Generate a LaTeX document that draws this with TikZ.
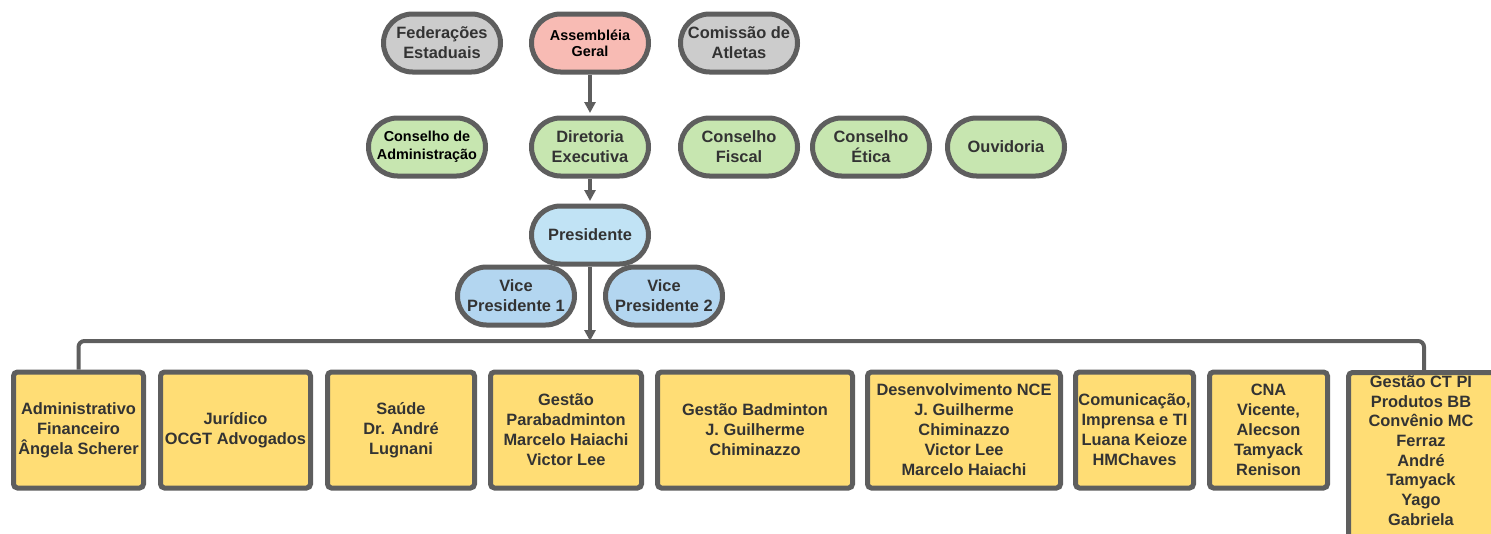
\documentclass[tikz,border=0pt]{standalone}
\usepackage{fontspec}
\setmainfont{Liberation Sans}
\usetikzlibrary{arrows.meta}

\definecolor{edgegray}{RGB}{94,94,94}
\definecolor{txtgray}{RGB}{51,51,51}
\definecolor{fedgray}{RGB}{204,204,204}
\definecolor{assempink}{RGB}{248,187,180}
\definecolor{consgreen}{RGB}{199,230,176}
\definecolor{presblue}{RGB}{193,227,245}
\definecolor{viceblue}{RGB}{179,214,240}
\definecolor{deptyellow}{RGB}{255,221,117}

\begin{document}
\begin{tikzpicture}[x=1pt, y=-1pt,
    every node/.style={font=\fontsize{16.4}{20}\selectfont\bfseries, text=txtgray, align=center},
    pill/.style={draw=edgegray, line width=5pt, rounded corners=29pt,
      minimum width=117pt, minimum height=58pt, inner sep=0pt},
    dept/.style={draw=edgegray, fill=deptyellow, line width=5pt, rounded corners=4pt,
      minimum height=116pt, inner sep=0pt},
    small/.style={font=\fontsize{14.4}{16}\selectfont\bfseries, text=black},
    link/.style={draw=edgegray, line width=4pt},
    arrow/.style={link, -{Triangle[length=11pt,width=11pt]}}]
  \clip (0,0) rectangle (1491,533);

  % top row
  \node[pill, fill=fedgray] (fed) at (442,43) {Federações\\Estaduais};
  \node[pill, fill=assempink, small] (ag) at (590,43) {Assembléia\\Geral};
  \node[pill, fill=fedgray] (atl) at (739,43) {Comissão de\\Atletas};

  % councils
  \node[pill, fill=consgreen, small, font=\fontsize{14.4}{18}\selectfont\bfseries] (adm) at (427,147) {Conselho de\\Administração};
  \node[pill, fill=consgreen] (de) at (590,147) {Diretoria\\Executiva};
  \node[pill, fill=consgreen] (fis) at (739,147) {Conselho\\Fiscal};
  \node[pill, fill=consgreen] (eti) at (871,147) {Conselho\\Ética};
  \node[pill, fill=consgreen] (ouv) at (1006,147) {Ouvidoria};

  % presidency
  \node[pill, fill=presblue] (pres) at (590,235) {Presidente};
  \node[pill, fill=viceblue] (vp1) at (516,296) {Vice\\Presidente 1};
  \node[pill, fill=viceblue] (vp2) at (664,296) {Vice\\Presidente 2};

  % departments
  \node[dept, minimum width=130pt] (admfin) at (78.5,430) {Administrativo\\Financeiro\\Ângela Scherer};
  \node[dept, minimum width=150pt] (jur) at (235.5,430) {Jurídico\\OCGT Advogados};
  \node[dept, minimum width=147pt] (sau) at (401,430) {Saúde\\Dr. André\\Lugnani};
  \node[dept, minimum width=151pt] (para) at (566,430) {Gestão\\Parabadminton\\Marcelo Haiachi\\Victor Lee};
  \node[dept, minimum width=195pt] (bad) at (755,430) {Gestão Badminton\\J. Guilherme\\Chiminazzo};
  \node[dept, minimum width=193pt] (nce) at (964,430) {Desenvolvimento NCE\\J. Guilherme\\Chiminazzo\\Victor Lee\\Marcelo Haiachi};
  \node[dept, minimum width=118pt] (com) at (1134.5,430) {Comunicação,\\Imprensa e TI\\Luana Keioze\\HMChaves};
  \node[dept, minimum width=118pt] (cna) at (1268.5,430) {CNA\\Vicente,\\Alecson\\Tamyack\\Renison};
  \node[dept, minimum width=151pt, minimum height=200pt, anchor=north] (ctpi) at (1424,370) {};
  \node[anchor=north, font=\fontsize{16.4}{19.7}\selectfont\bfseries] (ctpitxt) at (1421,372) {Gestão CT PI\\Produtos BB\\Convênio MC\\Ferraz\\André\\Tamyack\\Yago\\Gabriela};

  % connectors
  \coordinate (bus) at (590,341);
  \draw[arrow, shorten >=2.5pt] (ag.south) -- (de.north);
  \draw[arrow, shorten >=2.5pt] (de.south) -- (pres.north);
  \draw[link, rounded corners=6pt] (admfin.north) |- (bus) -| (ctpi.north);
  \draw[arrow] (pres.south) -- (bus);
\end{tikzpicture}
\end{document}
